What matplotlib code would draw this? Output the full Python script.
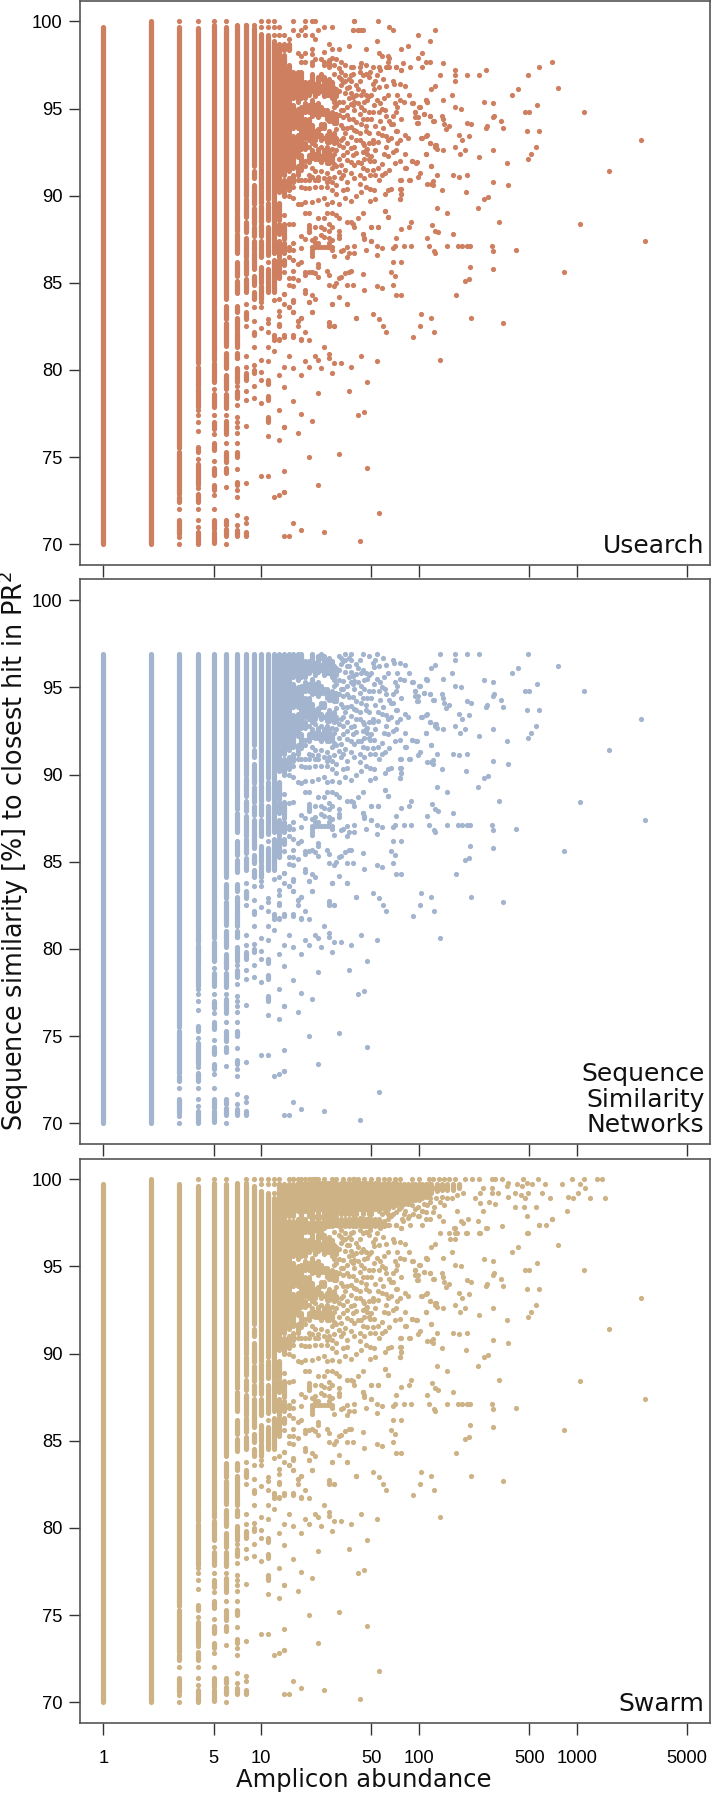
import numpy as np
import matplotlib
matplotlib.use("Agg")
import matplotlib.pyplot as plt

# values: abundance (x), similarity % (y)
# stretches where the dots of one abundance overlap into a solid run
spans_1 = [(70, 99.7)]
spans_2 = [(70, 100)]
spans_3 = [(75.5, 99.7), (72.9, 75.3), (72.4, 72.7), (70.6, 71.4)]
spans_4 = [(81, 99.6), (80.4, 80.9), (79, 80.2), (77.9, 78.9), (75.3, 75.6), (73.4, 74.6), (72.4, 72.9), (70, 70.7)]
spans_5 = [(81, 99.8), (80.6, 80.9), (79.3, 80.4), (77.9, 78.6), (76.6, 77), (75.4, 75.8), (74, 74.4), (73.1, 73.4), (70.9, 71.4), (70.1, 70.7)]
spans_6 = [(84.1, 99.7), (82.9, 83.7), (81.4, 82.7), (80.1, 81), (78.9, 79.7), (77.8, 78.6), (76.3, 77.1), (74.7, 75.3), (74.1, 74.4), (71.1, 71.4), (70.5, 70.9)]
spans_7 = [(89, 99.8), (88, 88.9), (86.7, 87.8), (85.4, 86.2), (84.4, 85.1), (83.3, 83.7), (82.3, 83), (81.3, 82.2), (80.7, 81), (79.8, 80.1), (79.3, 79.7), (78.4, 78.8), (75, 75.3), (73.4, 73.6), (70.5, 70.8)]
spans_8 = [(90, 99.8), (88.8, 89.8), (87.9, 88.5), (86.5, 87.6), (85.5, 86.3), (84.5, 85.2), (82.9, 83.3), (79.4, 79.8), (70.5, 70.7)]
spans_9 = [(91.7, 99.6), (91, 91.4), (89.5, 90.6), (88.4, 89.3), (87.7, 88.2), (86.8, 87.4), (85.8, 86.7), (84.9, 85.4), (84.1, 84.5), (82, 82.2), (79.8, 80)]
spans_10 = [(89.6, 99.3), (88.5, 89.4), (87.7, 88.3), (86.5, 87.4), (85, 85.9), (84.1, 84.8)]
spans_11 = [(89.8, 99.2), (88.6, 89.6), (86.6, 88.2), (84.5, 85.8), (79.2, 79.4), (78.3, 78.5), (77, 77.3)]
spans_12 = [(89.5, 98.9), (88.3, 89.4), (87.8, 88.2), (86.7, 87.7), (84.5, 86.3)]
spans_13 = [(90.2, 98.7), (88.6, 89.6), (87.8, 88.4), (86.5, 87.4), (85.3, 86.3)]
spans_14 = [(98.35, 98.7), (91.2, 98.07), (90, 90.9), (87.5, 88.4), (86.7, 87.3), (86, 86.3)]
spans_15 = [(98.35, 98.7), (96.1, 97.5), (95.7, 96), (93.7, 95.6), (91.4, 93.6), (90.3, 91)]
spans_16 = [(95.6, 97.1), (93.9, 95.2), (91.6, 93.4), (90.8, 91.2)]
spans_17 = [(95.4, 97.1), (93.9, 95), (92.2, 93.5), (91.2, 91.7)]
spans_18 = [(95.6, 97.1), (93.76, 95.1), (92.7, 93.67), (91.5, 92.33)]
spans_19 = [(95.6, 96.5), (94.8, 95.3), (93.3, 94.4), (92.7, 93)]
spans_20 = [(95.8, 96.5), (94.8, 95.2), (93.2, 94.4), (91.95, 92.33)]
spans_21 = [(96, 97), (94.6, 95.5), (93.3, 94.05), (92.14, 92.6)]
spans_22 = [(95.7, 96.4), (94.7, 95.2), (93.2, 93.7), (92.1, 92.4)]
spans_23 = [(95.9, 96.8), (94.5, 95.3), (93.4, 93.8), (92.4, 92.7)]
spans_24 = [(96.7, 97), (96, 96.3), (94.7, 95.1), (93.9, 94.1), (93.2, 93.5), (91.95, 92.3)]
spans_25 = [(95.7, 96.8), (94.7, 94.9), (93.9, 94.1), (92.1, 92.6)]
spans_26 = [(95.8, 96.4), (94.4, 94.9), (93.1, 93.5), (91.9, 92.2)]
spans_27 = [(97.4, 97.8), (95.8, 96.7), (94.3, 94.7), (93.4, 93.7), (92.3, 92.6)]
spans_28 = [(95.6, 96.5), (94.3, 94.8), (93.2, 93.5), (92, 92.2)]
spans_29 = [(95.4, 96.2), (94.5, 94.7), (93.4, 93.6)]
spans_30 = [(95.7, 96.1), (94.2, 94.7), (93.1, 93.3)]
all_spans = [spans_1, spans_2, spans_3, spans_4, spans_5, spans_6, spans_7, spans_8, spans_9, spans_10,
             spans_11, spans_12, spans_13, spans_14, spans_15, spans_16, spans_17, spans_18, spans_19, spans_20,
             spans_21, spans_22, spans_23, spans_24, spans_25, spans_26, spans_27, spans_28, spans_29, spans_30]

# lone dots in the low abundance columns
lone_low = [(3, 72), (3, 70.4), (3, 70),
            (4, 100), (4, 77.7), (4, 77.4), (4, 77), (4, 76.5), (4, 74.9), (4, 73.2), (4, 72), (4, 71.4), (4, 71),
            (5, 78.9), (5, 77.4), (5, 76.3), (5, 74.8), (5, 72.8), (5, 72),
            (6, 100), (6, 77.4), (6, 75.8), (6, 73.3), (6, 70),
            (7, 80.7), (7, 79.1), (7, 78), (7, 77.3), (7, 77), (7, 76.7), (7, 76.4), (7, 75.8), (7, 74.3), (7, 73.1), (7, 72.7), (7, 71.7), (7, 71.1),
            (8, 83.8), (8, 82.5), (8, 80.8), (8, 80.2), (8, 78.8), (8, 78.3), (8, 76.8), (8, 73.5), (8, 71.5), (8, 71.2),
            (9, 83.6), (9, 82.8), (9, 81.3), (9, 80.3), (9, 79.1), (9, 78.4),
            (10, 100), (10, 99.7), (10, 83.9), (10, 83.6), (10, 82.4), (10, 80.6), (10, 79.9), (10, 79.4), (10, 78.1), (10, 73.9),
            (11, 100), (11, 99.7), (11, 86.2), (11, 82.9), (11, 82.7), (11, 82.2), (11, 81.3), (11, 80.5), (11, 76.2), (11, 73.9),
            (12, 100), (12, 99.7), (12, 99.2), (12, 84), (12, 82), (12, 81.9), (12, 81.7), (12, 81.1), (12, 72.7),
            (13, 99.7), (13, 99.2), (13, 84.1), (13, 83.4), (13, 83.1), (13, 82.65), (13, 82.5), (13, 81.8), (13, 81.7), (13, 79.7), (13, 77.7), (13, 76), (13, 72.8),
            (14, 99.2), (14, 85.6), (14, 84.35), (14, 83.8), (14, 82), (14, 81.9), (14, 80.2), (14, 79), (14, 76.7), (14, 74.2), (14, 73),
            (15, 99), (15, 80.8), (15, 83.6), (15, 70.5)]

# abundance 15 to 40, similarity above 97
top_mid = [(16, 100), (19, 100), (21, 100), (22, 100), (16, 99.5), (18, 99.5), (19, 99.7), (23, 99.5), (25, 99.7), (28, 99.7),
           (39, 100), (38, 99.5), (41, 99.5), (44, 99.5), (17, 99.2), (19, 99.2), (21, 99.2), (22, 99), (27, 98.7), (36, 98.6),
           (31, 98.4), (28, 98.4), (25, 98.25), (21, 98.4), (17, 98.2), (19, 98.2), (21, 98.15), (18, 98), (22, 97.85), (24, 97.85),
           (28, 97.9), (30, 97.85), (32, 97.7), (27, 97.7), (34, 97.5), (18, 97.7), (19, 97.7), (21, 97.7), (21, 97.5), (25, 97.5),
           (25, 97.7), (37, 97.4), (29, 97.5), (31, 97.3)]

# abundance 31 to 40, 90 to 97
band_31_40 = [(32, 97.1), (34, 96.9), (37, 96.9), (38, 97), (36, 96.7), (37, 96.6), (40, 96.35), (32, 96.7), (34, 96.6), (32, 96.35),
              (36, 96.25), (37, 95.87), (38, 95.68), (40, 95.77), (39, 95.39), (36, 95.58), (37, 95.29), (38, 95.2), (39, 94.9), (33, 95.39),
              (32, 94.9), (35, 94.62), (33, 94.53), (31, 94.62), (36, 94.43), (38, 94.43), (40, 94.24), (32, 94.05), (37, 93.95), (35, 93.86),
              (39, 93.76), (37, 93.38), (33, 93.29), (32, 93.19), (35, 93), (39, 92.8), (37, 92.71), (33, 92.33), (35, 92.04), (40, 92.43),
              (38, 92.33), (32, 91.76), (37, 91.95), (39, 91.76), (41, 91.95), (34, 91.47), (31, 91.37), (37, 91.28), (39, 90.99), (32, 90.99), (35, 90.8),
              (29, 97), (31, 96.8), (33, 96.5), (35, 96.2), (31, 96), (34, 95.9), (29, 95.1), (31, 95.4), (33, 94.9), (35, 95.1),
              (30, 95.2), (29, 94.2), (30, 93.8), (33, 93.9), (34, 93.6), (29, 93), (31, 92.9), (30, 92.6), (33, 92.8), (29, 92.4),
              (31, 92.1), (35, 92.5), (28, 91.6), (30, 91.7), (33, 91.2), (29, 91.1), (27, 91.9), (26, 91.3), (27, 91), (24, 91.4),
              (23, 91.1), (23, 90.9), (25, 91), (21, 91.6), (21, 91.1), (22, 91.4), (20, 91.2), (20, 90.9), (19, 91.7), (19, 92),
              (18, 90.9), (17, 90.9), (19, 90.9), (22, 90.9), (28, 90.8), (30, 90.6), (26, 90.8), (24, 92), (26, 92.8), (27, 93.1),
              (23, 92.1), (20, 92.8), (22, 92.9), (21, 93), (24, 92.8), (25, 93.3), (28, 92.7), (29, 91.8)]

# abundance 40 to 125, 90.6 to 97.5
band_40_125 = [(42, 97.4), (46, 97.5), (43, 97.6), (38, 97.4), (51, 97.4), (56, 97.4), (62, 97.4), (65, 97.4), (65, 97.9), (71, 97.4),
               (77, 97.2), (42, 97.1), (46, 97), (49, 97.1), (48, 96.8), (54, 96.9), (57, 97.2), (51, 96.4), (56, 96.25), (62, 96.3),
               (68, 96.6), (69, 96.4), (81, 96.3), (76, 96.4), (46, 95.8), (48, 95.7), (50, 95.8), (47, 95.5), (43, 95.8), (52, 96.15),
               (64, 95.8), (73, 95.8), (76, 95.5), (80, 95.4), (87, 95.8), (70, 95.3), (73, 95.1), (90, 95.3), (102, 95.1), (110, 95.5),
               (113, 95.4), (123, 94.3), (118, 94.6), (107, 94.7), (94, 94.8), (97, 94.2), (99, 94.5), (57, 95.3), (58, 95), (56, 94.8),
               (51, 94.8), (48, 94.8), (45, 94.9), (61, 94.9), (68, 94.6), (72, 94.8), (77, 94.4), (65, 94.3), (57, 94.3), (66, 94.1),
               (68, 94.1), (50, 94.4), (47, 94.4), (44, 94.4), (53, 94), (55, 93.6), (51, 93.2), (48, 93.6), (46, 93.7), (40, 93.7),
               (42, 93.6), (40, 93.2), (45, 92.9), (48, 93), (51, 93), (55, 93.1), (64, 93.2), (72, 93.7), (73, 93.7), (81, 93.5),
               (85, 93.3), (76, 93.2), (73, 93), (62, 93.4), (68, 92.5), (72, 92.6), (64, 92.3), (70, 91.9), (76, 92), (82, 92.4),
               (110, 92.4), (104, 93.3), (113, 93.5), (118, 93), (126, 92.8), (128, 92.9), (46, 92.6), (47, 92.4), (44, 92.5), (47, 92.7),
               (53, 92.6), (50, 92.3), (48, 92.1), (44, 91.6), (47, 91.5), (49, 92), (55, 91.6), (58, 91.8), (65, 91.5), (61, 91.3),
               (58, 91.2), (53, 91.2), (49, 91.2), (90, 92), (97, 91.95), (83, 91.6), (76, 90.9), (87, 90.9), (113, 90.7), (123, 90.85), (120, 91.7),
               (42, 96.6), (44, 96.9), (41, 96.1), (44, 96), (53, 96.6), (59, 96.7), (41, 95.3), (43, 95.1), (45, 95.4), (52, 95.2),
               (54, 95.5), (60, 95.6), (42, 94.7), (43, 94.1), (46, 94), (42, 93.2), (44, 93), (59, 93.9), (62, 94.6), (45, 92.1), (43, 91.9),
               (52, 92), (60, 92.4), (42, 91.2), (45, 91), (51, 91.5), (56, 90.9), (42, 90.7), (62, 92.8), (66, 93.3), (58, 93.5)]

# abundance 13 to 60, 81 to 90.6
band_low_mid = [(16, 90.5), (18, 90.5), (19, 90.45), (20, 90.45), (22, 90.5), (24, 90.5), (26, 90.5), (28, 90.3), (30, 90.1), (33, 90.3),
                (35, 90.4), (40, 90), (43, 90.2), (46, 90.5), (49, 90.4), (52, 90.3), (61, 90.1), (64, 90.3), (66, 90.4), (76, 90.4),
                (77, 90.1), (76, 89.8), (49, 89.7), (53, 89.8), (15, 90), (16, 89.85), (17, 89.55), (18, 89.5), (19, 89.65), (21, 89.65),
                (23, 89.75), (25, 89.85), (26, 89.55), (28, 89.65), (31, 89.55), (34, 89.85), (37, 89.7), (61, 89.1), (64, 88.8), (41, 88.7),
                (44, 89), (30, 88.9), (31, 88.7), (28, 89), (26, 89), (23, 88.7), (25, 88.7), (37, 88.5), (35, 88.5), (38, 88.4),
                (39, 88.2), (19, 89), (20, 89), (14, 88.9), (16, 88.4), (15, 88.35), (50, 88.2), (55, 88.2), (44, 87.8), (45, 87.5),
                (50, 87.4), (20, 88.3), (20, 88.15), (22, 88.2), (24, 88.2), (25, 88.1), (27, 88.35), (28, 88.2), (27, 88), (31, 88),
                (31, 87.75), (20, 88), (20, 87.9), (18, 87.7), (19, 87.5), (21, 87.45), (22, 87.55), (24, 87.75), (25, 87.65), (27, 87.55),
                (28, 87.45), (31, 87.55), (21, 87.07), (22, 87.07), (23, 87.07), (24, 87.07), (25, 87.07), (26, 87.07), (27, 87.07), (28, 87.07),
                (21, 86.9), (21, 86.7), (21, 86.55), (27, 87.27), (28, 86.9), (29, 86.55), (23, 87.27), (22, 87.27), (35, 87.07), (33, 86.9),
                (36, 86.7), (39, 87.1), (32, 86.8), (35, 86.5), (39, 86.7), (16, 87.3), (15, 86.9), (16, 86.9), (18, 87), (15, 87.07),
                (15, 86.5), (16, 86.3), (17, 86.1), (18, 86.2), (16, 85.7), (23, 86.1), (23, 85.9), (26, 85.7), (27, 85.45), (37, 85.7),
                (36, 85.65), (34, 85.55), (32, 85.35), (31, 85.25), (19, 85.6), (20, 85.6), (21, 85.65), (22, 85.55), (23, 85.35), (19, 85.45),
                (15, 85.25), (16, 85.25), (17, 85.15), (15, 84.85), (16, 84.8), (27, 84.9), (30, 85), (29, 84.8), (35, 84.9), (38, 84.9),
                (19, 84.6), (19, 84.4), (21, 84.3), (22, 84.1), (20, 83.9), (31, 84.2), (28, 83.8), (35, 83.8), (14, 84.35), (15, 83.6),
                (16, 84), (16, 83.35), (21, 83.3), (40, 83), (18, 83), (17, 82.8), (17, 82.5), (27, 82.75), (27, 82.5), (29, 82.5),
                (19, 82.2), (16, 82), (18, 81.8), (18, 81.7), (20, 81.7), (25, 81.3), (16, 83.9), (20, 83.9), (21, 83.3), (16, 83.3),
                (17, 82.8), (18, 83), (27, 82.7), (29, 82.5), (16, 81.9), (22, 80.8), (19, 80.5), (23, 80.6), (27, 80.9), (27, 80.7),
                (16, 80.1), (18, 79.7), (20, 80.2), (24, 80.1), (28, 79.8), (35, 83.8), (28, 83.8)]

# far right of the cloud, every dot on its own
far_x = [39, 55, 65, 68, 99, 127, 117, 38, 41, 43, 54, 46, 56, 58, 64, 64, 77, 85, 104, 98,
         111, 117, 104, 88, 79, 72, 64, 143, 77, 135, 168, 170, 168, 201, 240, 265, 127, 120, 162, 143,
         170, 184, 110, 112, 92, 100, 94, 108, 117, 140, 143, 94, 98, 125, 145, 155, 148, 201, 214, 180,
         186, 206, 265, 270, 260, 295, 300, 295, 330, 340, 103, 111, 117, 127, 130, 143, 170, 195, 183, 110,
         240, 295, 119, 131, 165, 178, 201, 90, 96, 101, 98, 82, 77, 88, 119, 122, 140, 199, 77, 77,
         76, 259, 275, 238, 130, 151, 61, 64, 89, 121, 87, 77, 127, 132, 165, 112, 50, 55, 44, 45,
         71, 50, 54, 58, 46, 68, 70, 80, 89, 115, 125, 127, 150, 176, 188, 201, 210, 54, 68, 77,
         210, 206, 195, 66, 70, 44, 54, 58, 45, 68, 71, 77, 172, 695, 577, 490, 426, 388, 757, 1104,
         2558, 1610, 1047, 2716, 825, 559, 470, 496, 486, 574, 551, 516, 493, 359, 296, 368, 323, 409, 290, 296,
         293, 103, 120, 214, 343, 101, 125, 91, 51, 56, 59, 62, 40, 135, 54, 43, 37, 32, 29, 47,
         36, 23, 45, 41, 21, 18, 16, 17, 14, 31, 20, 47, 23, 14, 56, 16, 18, 25, 42, 14]
far_y = [100, 100, 99.7, 99.5, 99.2, 99.5, 98.9, 99.5, 99.5, 99.5, 98.9, 98.4, 98.2, 98, 98, 97.7, 98.4, 98.6, 98.2, 97.9,
         97.7, 97.7, 97.4, 97.4, 97.6, 97.4, 97.4, 97.6, 97.2, 96.9, 97.2, 96.9, 96.6, 96.9, 96.9, 97.2, 96.3, 96.1, 95.8, 95.5,
         95.1, 95, 95.5, 95.4, 95.3, 95.1, 94.8, 94.7, 94.6, 94.6, 94.4, 94.5, 94.2, 94.3, 94.1, 94, 93.8, 94.2, 94.1, 93.5,
         93.2, 93.4, 93.9, 94, 95.4, 95.3, 94.6, 94.5, 94.3, 93.9, 93.3, 93.4, 93, 92.9, 92.7, 92.6, 92.8, 92.6, 92.4, 92.4,
         92.2, 92.6, 91.7, 91.2, 91.2, 91.1, 91.2, 92, 91.9, 91.3, 91.1, 91.6, 90.9, 90.9, 90.7, 90.6, 90.3, 90.2, 90.4, 90.1,
         89.8, 89.8, 89.9, 89.3, 89.3, 89, 89.1, 88.8, 88.5, 88.3, 88.2, 88.1, 88, 87.9, 87.8, 87.6, 88.2, 88.2, 87.8, 87.6,
         87.6, 87.4, 87.1, 87, 86.9, 87, 87.1, 87.1, 87.1, 87.1, 86.8, 86.7, 87.1, 87.1, 87.1, 87.1, 87.1, 86.6, 86.2, 86.2,
         85.9, 85.2, 85.1, 85.6, 85.4, 85.5, 84.8, 84.7, 84.6, 84.9, 84.3, 84.3, 84.3, 97.7, 97.4, 96.9, 96.1, 95.8, 96.2, 94.8,
         93.2, 91.4, 88.4, 87.4, 85.6, 95.2, 94.8, 94.8, 93.7, 93.7, 92.8, 92.4, 92.1, 91.9, 90.8, 90.6, 88.5, 86.9, 87.1, 86.8,
         85.8, 83.2, 83, 83, 82.7, 82.5, 82.2, 81.9, 83.2, 82.9, 82.5, 82.2, 83, 80.6, 80.5, 80.8, 80.2, 80.4, 80.4, 79.3,
         78.8, 78.7, 77.6, 77.4, 77.1, 77.5, 78.2, 76.4, 76.7, 75.2, 75, 74.4, 73.4, 73, 71.8, 71.2, 70.8, 70.7, 70.2, 70.5]

# swarm only: the dense wedge near 100 %
wedge_x = [13, 14, 15, 16, 17, 18, 19, 20, 21, 22, 23, 24, 25, 26, 27, 28, 29, 30, 32, 34, 36, 38, 40, 42, 44, 46, 48,
           50, 53, 56, 60, 64, 68, 72, 76, 80, 85, 90, 95, 100, 105, 110, 115, 120, 130, 140, 150, 165, 180]
wedge_lo = [98.3, 98.3, 98.3, 98.3, 98.3, 98.3, 98.3, 98.3, 98.3, 98.3, 98.3, 98.3, 98.3, 98.3, 98.3, 98.3, 98.3, 98.3, 98.3, 98.3, 98.3, 98.3, 98.3, 98.3, 98.3, 98.3, 98.3,
            98.3, 98.3, 98.3, 98.3, 98.3, 98.4, 98.5, 98.6, 98.6, 98.7, 98.8, 98.8, 98.8, 98.9, 99, 99.1, 99.2, 99.3, 99.4, 99.4, 99.4, 99.5]
wedge_hi = [99.7, 99.7, 99.7, 99.7, 99.8, 99.8, 99.8, 99.8, 99.8, 99.8, 99.8, 99.8, 99.8, 99.8, 99.8, 99.8, 99.8, 99.8, 99.8, 99.8, 99.8, 99.8, 99.8, 99.8, 99.8, 99.8, 99.8,
            99.8, 99.8, 99.8, 99.8, 99.8, 99.8, 99.8, 99.7, 99.7, 99.7, 99.7, 99.7, 99.7, 99.7, 99.7, 99.7, 99.7, 99.7, 99.7, 99.7, 99.7, 99.7]
# lower part of the wedge, broken by the small white gaps
wedge2_x = [13, 14, 15, 16, 17, 18, 19, 20, 21, 22, 23, 24, 25, 26, 27, 28, 29, 30, 32, 34, 36, 38, 40, 42, 44, 46, 48, 50, 53, 56, 60,
            15, 16, 18, 20, 21, 23, 25, 26, 28, 29, 30, 32, 34, 36, 38, 40, 44, 48, 50]
wedge2_lo = [97.3, 97.2, 97.2, 97.1, 97, 97, 97, 97, 97.1, 97.1, 97, 97, 97.2, 97.3, 97.3, 97.3, 97.4, 97.4, 97.3, 97.3, 97.3, 97.3, 97.3, 97.4, 97.3, 97.3, 97.3, 97.3, 97.3, 97.3, 97.3,
             97.9, 97.9, 97.9, 97.9, 97.9, 97.9, 97.9, 97.9, 97.9, 98, 98, 98, 98, 98, 98, 98, 98, 98, 98]
wedge2_hi = [98.2, 98.2, 97.6, 97.6, 97.7, 97.5, 97.6, 97.5, 97.6, 97.5, 97.7, 97.5, 97.6, 97.6, 97.7, 97.6, 97.6, 97.7, 97.6, 97.7, 97.7, 97.8, 97.7, 97.8, 97.7, 97.7, 97.8, 97.7, 97.7, 97.7, 97.6,
             98.2, 98.2, 98.2, 98.2, 98.2, 98.2, 98.2, 98.2, 98.2, 98.2, 98.2, 98.2, 98.2, 98.2, 98.2, 98.2, 98.2, 98.2, 98.2]
swarm_x = [5, 8, 9, 13, 15, 16, 17, 18, 20, 22, 23, 25, 28, 30, 33, 36, 38, 41, 45, 50, 55, 60, 65, 70, 76,
           90, 100, 115, 123, 133, 145, 155, 169, 196, 216, 241, 289, 303, 337, 458, 570, 929, 1116, 1336, 1438,
           360, 368, 416, 447, 481, 518, 628, 802, 1048, 1127, 289, 256, 244, 289, 318, 406, 441, 493, 599, 368, 470, 676, 883, 951, 1023, 1213, 1510,
           226, 244, 279, 303, 406, 463, 549, 863, 256, 486, 191, 205, 236, 693, 638, 579, 334, 269, 486, 244, 200, 173, 155, 166, 157, 185, 134, 173,
           62, 68, 75, 82, 90, 98, 108, 118, 128, 140, 66, 72, 80, 86, 95, 104, 112, 125, 135, 150, 162, 175, 190, 78, 85, 92, 100, 110, 122, 145]
swarm_y = [100, 100, 100, 100, 100, 100, 100, 100, 100, 100, 100, 100, 100, 100, 100, 100, 100, 100, 100, 100, 100, 100, 100, 100, 100,
           100, 100, 100, 100, 100, 100, 100, 100, 100, 100, 100, 100, 100, 100, 100, 100, 100, 100, 100, 100,
           99.6, 99.8, 99.7, 99.6, 99.8, 99.7, 99.7, 99.7, 99.7, 99.5, 99.5, 99.5, 99.2, 99.2, 99.2, 99.2, 99.1, 99.2, 99.2, 99, 98.9, 98.9, 99, 98.9, 99.2, 98.9, 98.9,
           98.9, 98.65, 98.7, 98.6, 98.4, 98.4, 98.4, 98.2, 98.2, 97.9, 97.5, 97.7, 97.6, 97.7, 97.4, 97.4, 97.3, 97.2, 96.9, 96.9, 96.9, 96.9, 96.9, 97.2, 96.6, 97.6, 97.9, 98.2,
           98.1, 98, 98.3, 98.2, 98.5, 98.4, 98.6, 98.7, 98.9, 99, 97.9, 98.1, 98, 97.9, 98.3, 98.2, 98.5, 98.4, 98.7, 98.9, 98.9, 99.1, 99.2, 97.7, 97.8, 98, 97.9, 98.1, 98.1, 98.5]

# usearch only
usearch_x = [3, 5, 8, 9]
usearch_y = [100, 100, 99.8, 99.8]

xtick_vals = [1, 5, 10, 50, 100, 500, 1000, 5000]
ytick_vals = [70, 75, 80, 85, 90, 95, 100]
panel_names = ["Usearch", "Sequence\nSimilarity\nNetworks", "Swarm"]
panel_colors = ["#CD7F5F", "#A3B4CF", "#CDB285"]

W, H = 711, 1794
dot_px = 5.2
lw = dot_px * 72 / 100
frame = "#555555"

base_pts = np.array(lone_low + top_mid + band_31_40 + band_40_125 + band_low_mid + list(zip(far_x, far_y)), dtype=float)


def draw_panel(ax, color, name, cap, extra_x=(), extra_y=()):
    xs, lo, hi = [], [], []
    for ab, spans in enumerate(all_spans, start=1):
        for a, b in spans:
            if a >= cap:
                continue
            xs.append(ab)
            lo.append(a)
            hi.append(min(b, cap))
    ax.vlines(xs, lo, hi, color=color, linewidth=lw, capstyle="round", zorder=2)
    keep = base_pts[:, 1] <= cap
    ax.scatter(base_pts[keep, 0], base_pts[keep, 1], s=lw**2, color=color, linewidths=0, zorder=2)
    if len(extra_x):
        ax.scatter(extra_x, extra_y, s=lw**2, color=color, linewidths=0, zorder=2)
    ax.set_xscale("log")
    ax.set_xlim(10**-0.146, 10**3.844)
    ax.set_ylim(68.81, 101.19)
    ax.set_xticks(xtick_vals)
    ax.set_xticks([], minor=True)
    ax.set_yticks(ytick_vals)
    ax.set_yticklabels([str(v) for v in ytick_vals], family="Liberation Sans", fontsize=13.2)
    ax.tick_params(axis="x", length=8.5, width=1, color="#333333", pad=11, which="major")
    ax.tick_params(axis="y", length=8, width=1, color="#333333", pad=5)
    for s in ax.spines.values():
        s.set_color(frame)
        s.set_linewidth(1.2)
    ax.text(0.991, 0.012, name, transform=ax.transAxes, ha="right", va="bottom", fontsize=18,
            family="DejaVu Sans", color="#111111", linespacing=1.08, multialignment="right")


def add_panel(top, bottom):
    return fig.add_axes([80.3 / W, 1 - bottom / H, (710 - 80.3) / W, (bottom - top) / H])


fig = plt.figure(figsize=(W / 100, H / 100), dpi=100)
ax1 = add_panel(0.7, 565)
ax2 = add_panel(579.5, 1144)
ax3 = add_panel(1158.5, 1723)

draw_panel(ax1, panel_colors[0], panel_names[0], 101, usearch_x, usearch_y)
draw_panel(ax2, panel_colors[1], panel_names[1], 96.9)
draw_panel(ax3, panel_colors[2], panel_names[2], 101, swarm_x, swarm_y)
ax3.vlines(wedge_x, wedge_lo, wedge_hi, color=panel_colors[2], linewidth=lw, capstyle="round", zorder=2)
ax3.vlines(wedge2_x, wedge2_lo, wedge2_hi, color=panel_colors[2], linewidth=lw, capstyle="round", zorder=2)

ax1.set_xticklabels([])
ax2.set_xticklabels([])
ax3.set_xticklabels([str(v) for v in xtick_vals], family="Liberation Sans", fontsize=13.2)

fig.text(364 / W, 1 - 1780 / H, "Amplicon abundance", ha="center", va="center", fontsize=17.5, family="DejaVu Sans", color="#111111")
fig.text(13.5 / W, 1 - 851 / H, "Sequence similarity [%] to closest hit in PR$^2$", rotation=90, ha="center", va="center",
         fontsize=18.4, family="DejaVu Sans", color="#111111")

fig.savefig("out.png", dpi=100)
